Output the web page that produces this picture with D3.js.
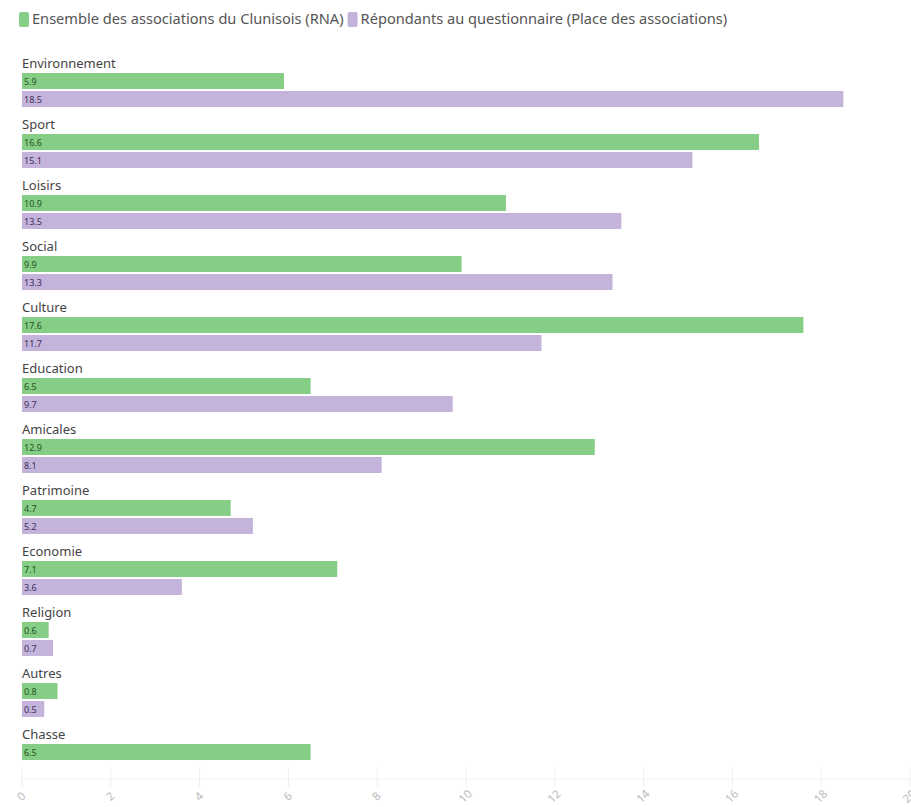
<!DOCTYPE html>
<html>
<head>
<meta charset="utf-8">
<script src="https://cdn.jsdelivr.net/npm/d3@7"></script>
<style>
  body { margin: 0; background: #fff; font-family: "Noto Sans", sans-serif; }
</style>
</head>
<body>
<div id="chart"></div>
<script>
const categories = ["Environnement", "Sport", "Loisirs", "Social", "Culture", "Education",
    "Amicales", "Patrimoine", "Economie", "Religion", "Autres", "Chasse"];
const rnaValues = [5.9, 16.6, 10.9, 9.9, 17.6, 6.5, 12.9, 4.7, 7.1, 0.6, 0.8, 6.5];
const surveyValues = [18.5, 15.1, 13.5, 13.3, 11.7, 9.7, 8.1, 5.2, 3.6, 0.7, 0.5, null];
const seriesNames = ["Ensemble des associations du Clunisois (RNA)", "Répondants au questionnaire (Place des associations)"];
const xTicks = [0, 2, 4, 6, 8, 10, 12, 14, 16, 18, 20];

const colors = ["#86cd86", "#c4b3da"];
const labelColors = ["#245224", "#3d2f5a"];

const dimension = {
    width: 911,
    height: 807,
    margin: { top: 55, left: 22, right: 1, bottom: 28 }
};

const svg = d3.select("#chart").append("svg")
    .attr("width", dimension.width)
    .attr("height", dimension.height);

// legend
const legend = svg.append("g").attr("transform", "translate(19, 12)");
let lx = 0;
seriesNames.forEach((name, i) => {
    const item = legend.append("g").attr("transform", `translate(${lx}, 0)`);
    item.append("rect")
        .attr("width", 10).attr("height", 15).attr("rx", 2)
        .attr("fill", colors[i]);
    const t = item.append("text")
        .attr("x", 13).attr("y", 12)
        .attr("font-size", 14.6)
        .attr("fill", "#555")
        .text(name);
    lx += 13 + t.node().getComputedTextLength() + 4;
});

const x = d3.scaleLinear()
    .domain([0, 20])
    .range([dimension.margin.left, 910]);

const groupY = d3.scaleBand()
    .domain(categories)
    .range([55, 55 + 61 * categories.length])
    .padding(0);

const data = categories.map((c, i) => ({ name: c, values: [rnaValues[i], surveyValues[i]] }));

// axis
const axisY = 779;
const axis = svg.append("g").attr("transform", `translate(0, ${axisY})`);
axis.append("line")
    .attr("x1", x(0)).attr("x2", x(20))
    .attr("stroke", "#f2f2f2");
axis.selectAll(".tick").data(xTicks).join("line")
    .attr("x1", d => x(d)).attr("x2", d => x(d))
    .attr("y1", -12).attr("y2", 8)
    .attr("stroke", "#efefef");
axis.selectAll(".tl").data(xTicks).join("text")
    .attr("transform", d => `translate(${x(d)}, 18) rotate(-45)`)
    .attr("text-anchor", "middle")
    .attr("dominant-baseline", "middle")
    .attr("font-size", 11.5)
    .attr("fill", "#bbb")
    .text(d => d);

const groups = svg.selectAll(".group").data(data).join("g")
    .attr("transform", d => `translate(0, ${groupY(d.name)})`);

groups.append("text")
    .attr("x", x(0))
    .attr("y", 13)
    .attr("font-size", 13)
    .attr("fill", "#444")
    .text(d => d.name);

const barH = 16;
groups.each(function(d) {
    const g = d3.select(this);
    d.values.forEach((v, i) => {
        if (v == null) return;
        const y = 18 + i * (barH + 2);
        g.append("rect")
            .attr("x", x(0))
            .attr("y", y)
            .attr("width", x(v) - x(0))
            .attr("height", barH)
            .attr("fill", colors[i]);
        g.append("text")
            .attr("x", x(0) + 2)
            .attr("y", y + 11.5)
            .attr("font-size", 9)
            .attr("fill", labelColors[i])
            .text(v);
    });
});
</script>
</body>
</html>
